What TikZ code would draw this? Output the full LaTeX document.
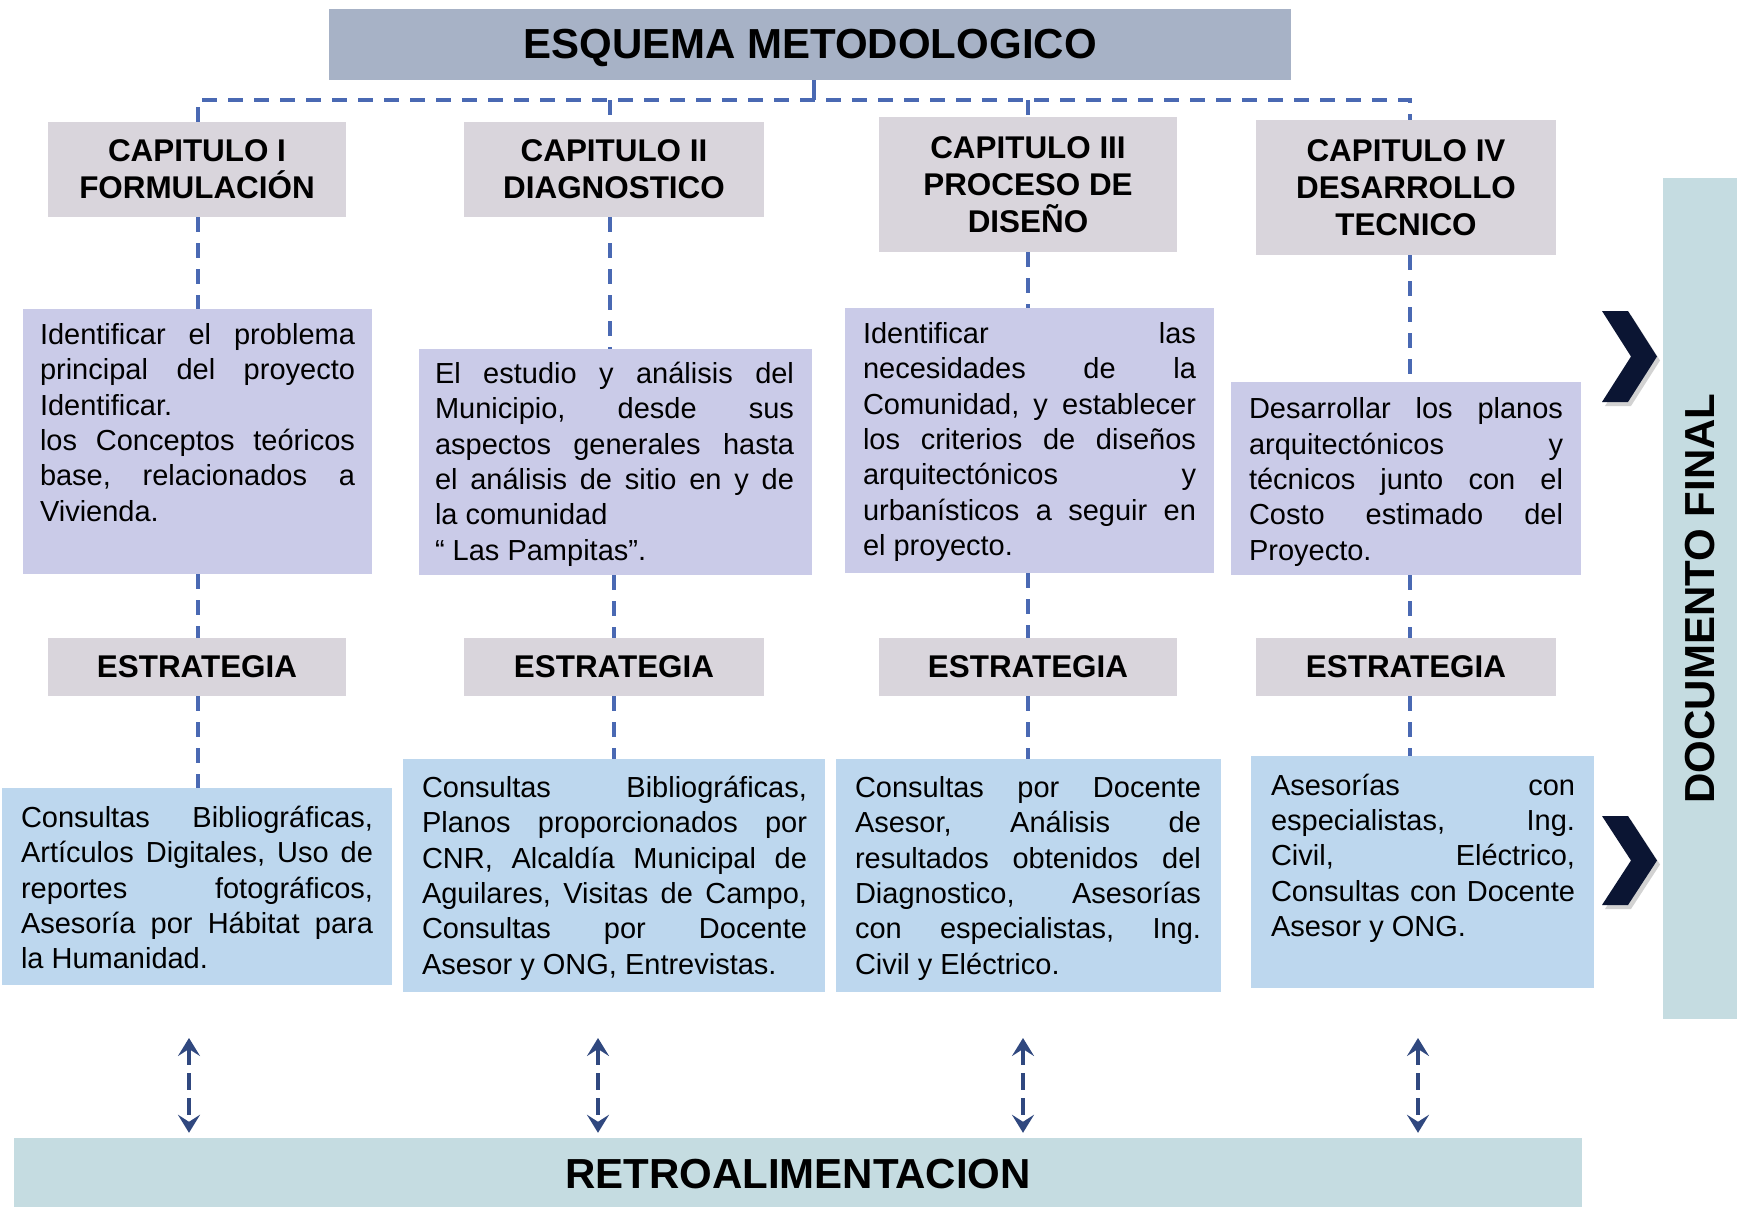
\documentclass[tikz,border=0pt]{standalone}
\usepackage{fontspec}
\setmainfont{Liberation Sans}
\usetikzlibrary{arrows.meta,shadows}
\definecolor{titlefill}{HTML}{A7B2C6}
\definecolor{capfill}{HTML}{D9D5DC}
\definecolor{descfill}{HTML}{CACBE8}
\definecolor{consfill}{HTML}{BDD7EE}
\definecolor{retrofill}{HTML}{C5DCE1}
\definecolor{dashblue}{HTML}{4A69B3}
\definecolor{arrowblue}{HTML}{30487F}
\definecolor{chevcol}{HTML}{0B1533}
\newcommand\jset{\hyphenpenalty=10000\relax\exhyphenpenalty=10000\relax\tolerance=10000\relax\frenchspacing\relax}
\begin{document}
\begin{tikzpicture}[x=1pt,y=-1pt,
  titlebox/.style={fill=titlefill, inner sep=0},
  titletext/.style={inner sep=0, font=\bfseries\fontsize{42}{50}\selectfont},
  capbox/.style={fill=capfill, inner sep=0, align=center, font=\bfseries\fontsize{31.4}{37}\selectfont},
  descbox/.style={fill=descfill, inner sep=0},
  consbox/.style={fill=consfill, inner sep=0},
  bigbox/.style={fill=retrofill, inner sep=0},
  bigtext/.style={inner sep=0, font=\bfseries\fontsize{42}{50}\selectfont},
  txt/.style={inner sep=0, anchor=base west, align=justify, font=\fontsize{29}{35.3}\selectfont},
  conn/.style={dashblue, line width=3.2pt, dash pattern=on 15pt off 11pt},
  fb/.style={arrowblue, line width=3.2pt, dash pattern=on 17pt off 8pt,
    {Stealth[length=18pt,width=22pt,inset=7pt]}-{Stealth[length=18pt,width=22pt,inset=7pt]}},
  chev/.style={fill=chevcol, drop shadow={shadow xshift=3pt, shadow yshift=-4pt, opacity=0.35}}
]
\fill[white] (0,0) rectangle (1741,1207);
\useasboundingbox (0,0) rectangle (1741,1207);

% title
\node[titlebox, minimum width=962, minimum height=71] (title) at (810,44.5) {};
\node[titletext] (titlet) at ([yshift=-3pt]title.center) {ESQUEMA METODOLOGICO};

% chapters
\node[capbox, minimum width=298, minimum height=95] (c1) at (197,169.5) {CAPITULO I\\FORMULACIÓN};
\node[capbox, minimum width=300, minimum height=95] (c2) at (614,169.5) {CAPITULO II\\DIAGNOSTICO};
\node[capbox, minimum width=298, minimum height=135] (c3) at (1028,184.5) {CAPITULO III\\PROCESO DE\\DISEÑO};
\node[capbox, minimum width=300, minimum height=135] (c4) at (1406,187.5) {CAPITULO IV\\DESARROLLO\\TECNICO};

% description boxes
\node[descbox, minimum width=349, minimum height=265] (d1) at (197.5,441.5) {};
\node[descbox, minimum width=393, minimum height=226] (d2) at (615.5,462) {};
\node[descbox, minimum width=369, minimum height=265] (d3) at (1029.5,440.5) {};
\node[descbox, minimum width=350, minimum height=193] (d4) at (1406,478.5) {};

\node[txt, text width=315] (d1t) at ([shift={(17,35.8)}]d1.north west)
  {\jset Identificar el problema\linebreak principal del proyecto\linebreak Identificar.\newline los Conceptos teóricos\linebreak base, relacionados a\linebreak Vivienda.};
\node[txt, text width=359] (d2t) at ([shift={(16,34.8)}]d2.north west)
  {\jset El estudio y análisis del\linebreak Municipio, desde sus\linebreak aspectos generales hasta\linebreak el análisis de sitio en y de\linebreak la comunidad\newline “ Las Pampitas”.};
\node[txt, text width=333] (d3t) at ([shift={(18,35.8)}]d3.north west)
  {\jset Identificar las\linebreak necesidades de la\linebreak Comunidad, y establecer\linebreak los criterios de diseños\linebreak arquitectónicos y\linebreak urbanísticos a seguir en\linebreak el proyecto.};
\node[txt, text width=314] (d4t) at ([shift={(18,37)}]d4.north west)
  {\jset Desarrollar los planos\linebreak arquitectónicos y\linebreak técnicos junto con el\linebreak Costo estimado del\linebreak Proyecto.};

% estrategia
\node[capbox, minimum width=298, minimum height=58] (e1) at (197,667) {ESTRATEGIA};
\node[capbox, minimum width=300, minimum height=58] (e2) at (614,667) {ESTRATEGIA};
\node[capbox, minimum width=298, minimum height=58] (e3) at (1028,667) {ESTRATEGIA};
\node[capbox, minimum width=300, minimum height=58] (e4) at (1406,667) {ESTRATEGIA};

% consult boxes
\node[consbox, minimum width=390, minimum height=197] (k1) at (197,886.5) {};
\node[consbox, minimum width=422, minimum height=233] (k2) at (614,875.5) {};
\node[consbox, minimum width=385, minimum height=233] (k3) at (1028.5,875.5) {};
\node[consbox, minimum width=343, minimum height=232] (k4) at (1422.5,872) {};

\node[txt, text width=352] (k1t) at ([shift={(19,39.8)}]k1.north west)
  {\jset Consultas Bibliográficas,\linebreak Artículos Digitales, Uso de\linebreak reportes fotográficos,\linebreak Asesoría por Hábitat para\linebreak la Humanidad.};
\node[txt, text width=385] (k2t) at ([shift={(19,38.8)}]k2.north west)
  {\jset Consultas Bibliográficas,\linebreak Planos proporcionados por\linebreak CNR, Alcaldía Municipal de\linebreak Aguilares, Visitas de Campo,\linebreak Consultas por Docente\linebreak Asesor y ONG, Entrevistas.};
\node[txt, text width=346] (k3t) at ([shift={(19,38.8)}]k3.north west)
  {\jset Consultas por Docente\linebreak Asesor, Análisis de\linebreak resultados obtenidos del\linebreak Diagnostico, Asesorías\linebreak con especialistas, Ing.\linebreak Civil y Eléctrico.};
\node[txt, text width=304] (k4t) at ([shift={(20,39.5)}]k4.north west)
  {\jset Asesorías con\linebreak especialistas, Ing.\linebreak Civil, Eléctrico,\linebreak Consultas con Docente\linebreak Asesor y ONG.};

% big side / bottom boxes
\node[bigbox, minimum width=1568, minimum height=69] (retro) at (798,1172.5) {};
\node[bigtext] (retrot) at ([yshift=-2pt]retro.center) {RETROALIMENTACION};
\node[bigbox, minimum width=74, minimum height=841] (docbox) at (1700,598.5) {};
\node[bigtext, rotate=90] (doct) at (docbox.center) {DOCUMENTO FINAL};

% column x positions
\coordinate (v1) at (198,0);
\coordinate (v2) at (610,0);
\coordinate (v3) at (1028,0);
\coordinate (v4) at (1410,0);
\coordinate (w1) at (198,0);
\coordinate (w2) at (614,0);
\coordinate (w3) at (1028,0);
\coordinate (w4) at (1410,0);

% top connectors
\coordinate (hl) at (0,100);
\draw[dashblue, line width=3.2pt] ([xshift=4pt]title.south) -- ([xshift=4pt]title.south |- hl);
\draw[conn] (v1 |- c1.north) -- (v1 |- hl) -- (v4 |- hl) -- (v4 |- c4.north);
\draw[conn] (v2 |- hl) -- (v2 |- c2.north);
\draw[conn] (v3 |- hl) -- (v3 |- c3.north);

% column connectors
\foreach \i in {1,2,3,4}{
  \draw[conn] (v\i |- c\i.south) -- (v\i |- d\i.north);
  \draw[conn] (w\i |- d\i.south) -- (w\i |- e\i.north);
  \draw[conn] (w\i |- e\i.south) -- (w\i |- k\i.north);
}

% feedback arrows
\coordinate (f1) at (189,1038);
\coordinate (f2) at (598,1038);
\coordinate (f3) at (1023,1038);
\coordinate (f4) at (1418,1038);
\foreach \i in {1,2,3,4}{
  \draw[fb, shorten >=5pt] (f\i) -- (f\i |- retro.north);
}

% chevrons
\fill[chev] (1602,311) -- (1628,311) -- (1657,356.5) -- (1628,402) -- (1602,402) -- (1631,356.5) -- cycle;
\fill[chev] (1602,816) -- (1628,816) -- (1657,860.5) -- (1628,905) -- (1602,905) -- (1631,860.5) -- cycle;
\end{tikzpicture}
\end{document}
